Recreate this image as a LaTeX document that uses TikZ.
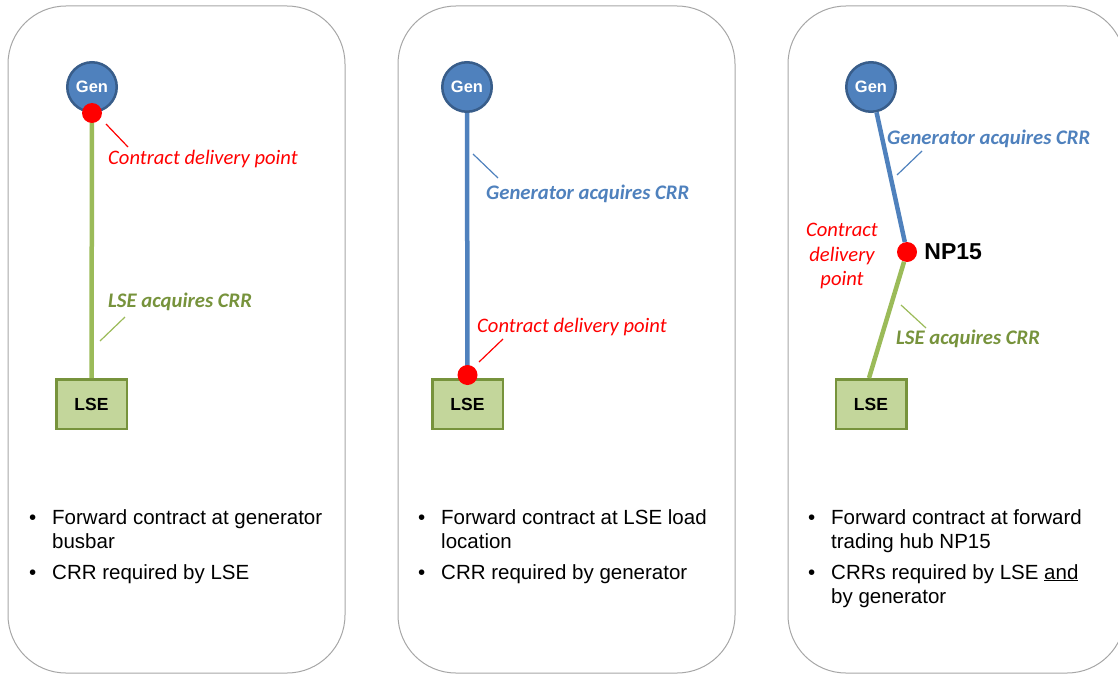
\documentclass[tikz,border=0pt]{standalone}
\usepackage{fontspec}
\setmainfont{Liberation Sans}
\newfontfamily\calib{Carlito}
\usetikzlibrary{positioning}
\definecolor{genfill}{HTML}{4F81BD}
\definecolor{gendraw}{HTML}{385D8A}
\definecolor{lsefill}{HTML}{C3D69B}
\definecolor{lsedraw}{HTML}{77933C}
\definecolor{lsegreen}{HTML}{9BBB59}
\definecolor{paneldraw}{HTML}{A6A6A6}

\begin{document}
\begin{tikzpicture}[x=1pt, y=-1pt,
  panel/.style={draw=paneldraw, line width=1pt, rounded corners=58pt},
  gen/.style={circle, fill=genfill, draw=gendraw, line width=2.5pt, minimum size=49.5pt, inner sep=0pt, text=white, font=\fontsize{16.5}{18}\selectfont\bfseries},
  lse/.style={rectangle, fill=lsefill, draw=lsedraw, line width=2.5pt, minimum width=70.5pt, minimum height=49.5pt, inner sep=0pt, font=\fontsize{17.5}{20}\selectfont\bfseries},
  dot/.style={circle, fill=red, minimum size=20pt, inner sep=0pt},
  greenline/.style={draw=lsegreen, line width=4.5pt},
  blueline/.style={draw=genfill, line width=4.5pt},
  leader/.style={line width=1.2pt},
  lbl/.style={font=\calib\itshape\fontsize{20.6}{24.5}\selectfont, inner sep=0pt, anchor=west},
  crrlbl/.style={font=\calib\bfseries\itshape\fontsize{20.7}{24.5}\selectfont, inner sep=0pt, anchor=west},
  bul/.style={font=\fontsize{20.5}{24.5}\selectfont, inner sep=0pt, anchor=base west},
  item/.style={font=\fontsize{20.5}{24.5}\selectfont, inner sep=0pt, anchor=base west, align=left}
]
\useasboundingbox (0,0) rectangle (1118,674);

% the three panels
\draw[panel] (8,6) rectangle (345,673);
\draw[panel] (398,6) rectangle (735,673);
\draw[panel] (788,6) rectangle (1125,673);

% panel 1: delivery at the generator busbar
\node[gen] (gen1) at (92,87) {Gen};
\node[lse] (lse1) at (91.5,404) {LSE};
\draw[greenline] (gen1) -- (lse1);
\node[dot] (cdp1) at (gen1.south) {};
\node[lbl, text=red] (cdptxt1) at (108,159) {Contract delivery point};
\coordinate (c1a) at (106,124);
\coordinate (c1b) at (128,147);
\draw[leader, red] (c1a) -- (c1b);
\node[crrlbl, text=lsedraw] (lsetxt1) at (108,302) {LSE acquires CRR};
\coordinate (l1a) at (100,341);
\coordinate (l1b) at (125,317);
\draw[leader, lsegreen] (l1a) -- (l1b);
\node[bul] (b11) at (29,524) {•};
\node[item] (i11) at (52,548.5) {Forward contract at generator\\busbar};
\node[bul] (b12) at (29,579) {•};
\node[item] (i12) at (52,579) {CRR required by LSE};

% panel 2: delivery at the LSE load location
\node[gen] (gen2) at (467,87) {Gen};
\node[lse] (lse2) at (467.5,404) {LSE};
\draw[blueline] (gen2) -- (lse2);
\node[dot] (cdp2) at ([yshift=3pt]lse2.north) {};
\node[crrlbl, text=genfill] (gentxt2) at (486,194) {Generator acquires CRR};
\coordinate (g2a) at (473,154);
\coordinate (g2b) at (498,178);
\draw[leader, genfill] (g2a) -- (g2b);
\node[lbl, text=red] (cdptxt2) at (477,327) {Contract delivery point};
\coordinate (c2a) at (479,362);
\coordinate (c2b) at (503,339);
\draw[leader, red] (c2a) -- (c2b);
\node[bul] (b21) at (418,524) {•};
\node[item] (i21) at (441,548.5) {Forward contract at LSE load\\location};
\node[bul] (b22) at (418,579) {•};
\node[item] (i22) at (441,579) {CRR required by generator};

% panel 3: delivery at the trading hub
\node[gen] (gen3) at (871,87) {Gen};
\node[lse] (lse3) at (871,404) {LSE};
\node[dot] (np15) at (907,252) {};
\draw[blueline] (gen3) -- (np15);
\draw[greenline] (np15) -- ([xshift=-2pt]lse3.north);
\node[right=7pt of np15, inner sep=0pt, font=\fontsize{23}{26}\selectfont\bfseries] (np15txt) {NP15};
\node[lbl, text=red, anchor=center, align=center] (cdptxt3) at (842,256) {Contract\\delivery\\point};
\node[crrlbl, text=genfill] (gentxt3) at (887,139) {Generator acquires CRR};
\coordinate (g3a) at (897,175);
\coordinate (g3b) at (922,151);
\draw[leader, genfill] (g3a) -- (g3b);
\node[crrlbl, text=lsedraw] (lsetxt3) at (896,339) {LSE acquires CRR};
\coordinate (l3a) at (901,305);
\coordinate (l3b) at (926,328);
\draw[leader, lsegreen] (l3a) -- (l3b);
\node[bul] (b31) at (808,524) {•};
\node[item] (i31) at (831,548.5) {Forward contract at forward\\trading hub NP15};
\node[bul] (b32) at (808,579) {•};
\node[item] (i32) at (831,603.5) {CRRs required by LSE \underline{and}\\by generator};
\end{tikzpicture}
\end{document}
